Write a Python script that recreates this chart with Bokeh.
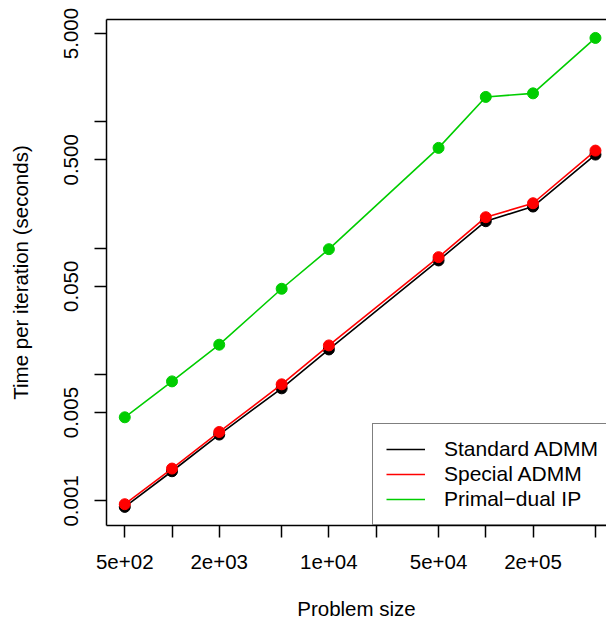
from bokeh.plotting import figure
from bokeh.models import Range1d, LogAxis, FixedTicker, Legend, LegendItem
from bokeh.embed import file_html
from bokeh.resources import INLINE

# ---- data ----
sizes = [500, 1000, 2000, 5000, 10000, 50000, 100000, 200000, 500000]
standard_admm = [0.000897, 0.001717, 0.00335, 0.00778, 0.0158, 0.0800, 0.1635, 0.2136, 0.5505]
special_admm = [0.000942, 0.001803, 0.003512, 0.008368, 0.0170, 0.0849, 0.1758, 0.2268, 0.5918]
primal_dual_ip = [0.00459, 0.00883, 0.01723, 0.04775, 0.0982, 0.622, 1.574, 1.68, 4.61]

series_names = ["Standard ADMM", "Special ADMM", "Primal\u2212dual IP"]
series_colors = ["#000000", "#FF0000", "#00CD00"]

x_ticks = [500, 1000, 2000, 5000, 10000, 20000, 50000, 100000, 200000, 500000]
x_tick_labels = ["5e+02", "", "2e+03", "", "1e+04", "", "5e+04", "", "2e+05", ""]
y_ticks = [0.001, 0.005, 0.01, 0.05, 0.1, 0.5, 1, 5]
y_tick_labels = ["0.001", "0.005", "", "0.050", "", "0.500", "", "5.000"]

x_title = "Problem size"
y_title = "Time per iteration (seconds)"

FONT = "Liberation Sans"
FS = "20.5px"

p = figure(width=606, height=623, x_axis_type="log", y_axis_type="log",
           x_range=Range1d(382.4, 5.88e5), y_range=Range1d(10**-3.1945, 10**0.8097),
           output_backend="svg", toolbar_location=None,
           min_border_left=106, min_border_right=0, min_border_top=19, min_border_bottom=98)
p.outline_line_color = None
p.grid.visible = False
p.background_fill_color = "white"
p.border_fill_color = "white"

# axes
for ax, ticks, labels, title in ((p.xaxis[0], x_ticks, x_tick_labels, x_title),
                                  (p.yaxis[0], y_ticks, y_tick_labels, y_title)):
    ax.ticker = FixedTicker(ticks=ticks, minor_ticks=[])
    ax.major_label_overrides = {float(t): l for t, l in zip(ticks, labels)}
    ax.axis_label = title
    ax.axis_label_text_font = FONT
    ax.axis_label_text_font_size = FS
    ax.axis_label_text_font_style = "normal"
    ax.axis_label_text_color = "black"
    ax.major_label_text_font = FONT
    ax.major_label_text_font_size = FS
    ax.major_label_text_color = "black"
    ax.axis_line_color = "black"
    ax.axis_line_width = 1.5
    ax.major_tick_line_color = "black"
    ax.major_tick_line_width = 1.5
    ax.major_tick_in = 0
    ax.major_tick_out = 12
    ax.minor_tick_line_color = None

p.xaxis[0].major_label_standoff = 17
p.xaxis[0].axis_label_standoff = 25
p.yaxis[0].major_label_orientation = "vertical"
p.yaxis[0].major_label_standoff = 16
p.yaxis[0].axis_label_standoff = 30

# top border line of the box
top = LogAxis(ticker=FixedTicker(ticks=[], minor_ticks=[]), major_label_text_font_size="0px",
              major_tick_line_color=None, minor_tick_line_color=None,
              major_tick_out=0, major_tick_in=0, major_label_standoff=0,
              axis_line_color="black", axis_line_width=1.5)
p.add_layout(top, "above")

items = []
for name, vals, col in zip(series_names, [standard_admm, special_admm, primal_dual_ip], series_colors):
    ln = p.line(sizes, vals, line_color=col, line_width=1.6)
    p.scatter(sizes, vals, size=11, fill_color=col, line_color=col, marker="circle")
    items.append(LegendItem(label=name, renderers=[ln]))

legend = Legend(items=items, location=(266, 0), orientation="vertical",
                label_text_font=FONT, label_text_font_size="21px", label_text_color="black",
                glyph_width=39, glyph_height=24, label_height=24, label_standoff=19,
                spacing=1, padding=13, margin=0,
                border_line_color="black", border_line_width=1.5,
                background_fill_color="white", background_fill_alpha=1.0)
p.add_layout(legend)

open("out.html", "w").write(file_html(p, INLINE))
